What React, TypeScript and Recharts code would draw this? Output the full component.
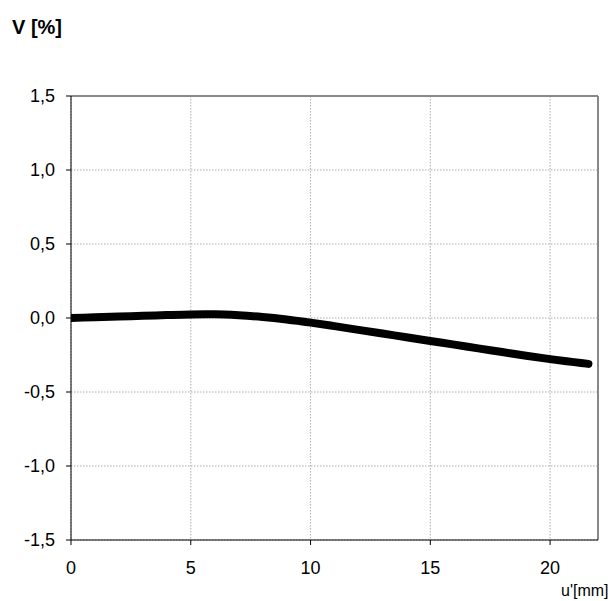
import { LineChart, Line, XAxis, YAxis, CartesianGrid, ReferenceLine } from 'recharts';

const uValues = [0, 1, 2, 3, 4, 5, 6, 7, 8, 9, 10, 11, 12, 13, 14, 15, 16, 17, 18, 19, 20, 21, 21.6];
const vValues = [0, 0.005, 0.01, 0.015, 0.02, 0.024, 0.025, 0.019, 0.007, -0.01, -0.031, -0.055, -0.08, -0.105, -0.13, -0.155, -0.18, -0.205, -0.23, -0.255, -0.278, -0.298, -0.31];
const xTicks = [0, 5, 10, 15, 20];
const yTicks = [-1.5, -1.0, -0.5, 0, 0.5, 1.0, 1.5];

const data = uValues.map((u, i) => ({ u, v: vValues[i] }));

const font = 'Liberation Sans, Arial, sans-serif';
const fmt = (v: number) => v.toFixed(1).replace('.', ',');

export default function App() {
  return (
    <div style={{ position: 'fixed', left: 0, top: 0, width: 612, height: 601, background: '#fff', fontFamily: font }}>
      <div style={{ position: 'absolute', left: 12, top: 16, fontSize: 20, fontWeight: 'bold', color: '#000' }}>V [%]</div>
      <div style={{ position: 'absolute', left: 561, top: 582, fontSize: 16, color: '#000', whiteSpace: 'nowrap' }}>u'[mm]</div>
      <LineChart width={612} height={601} data={data} margin={{ top: 96, right: 14, left: 0, bottom: 31 }}>
        <CartesianGrid stroke="#999" strokeDasharray="1.5 1.5" strokeWidth={0.8} />
        <XAxis
          dataKey="u"
          type="number"
          domain={[0, 22]}
          ticks={xTicks}
          height={30}
          stroke="#000"
          tickSize={5}
          tickMargin={16}
          tick={{ fill: '#000', fontSize: 18, fontFamily: font }}
          allowDataOverflow
        />
        <YAxis
          type="number"
          domain={[-1.5, 1.5]}
          ticks={yTicks}
          width={71}
          stroke="#000"
          tickSize={5}
          tickMargin={11}
          tickFormatter={fmt}
          tick={{ fill: '#000', fontSize: 18, fontFamily: font }}
        />
        <ReferenceLine y={1.5} stroke="#888" strokeWidth={2} />
        <ReferenceLine x={22} stroke="#888" strokeWidth={2} />
        <Line
          type="monotone"
          dataKey="v"
          stroke="#000"
          strokeWidth={8}
          strokeLinecap="round"
          dot={false}
          isAnimationActive={false}
        />
      </LineChart>
    </div>
  );
}
